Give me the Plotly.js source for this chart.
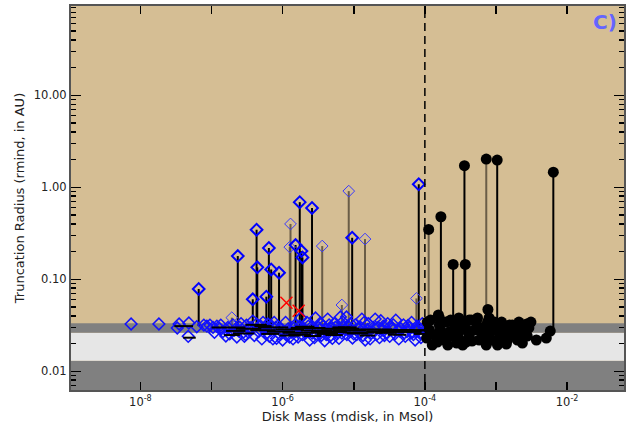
<!DOCTYPE html>
<html><head><meta charset="utf-8">
<script src="https://cdn.plot.ly/plotly-3.0.1.min.js"></script>
<style>html,body{margin:0;padding:0;background:#fff}#chart{width:626px;height:433px}</style>
</head><body><div id="chart"></div>
<script>
// ---- data ----
// high diamonds (bold) with stems: mass (Msol), rmin (AU), stem base (AU)
const dHiX    = [6.6e-8, 2.34e-7, 4.3e-7, 4.4e-7, 6.4e-7, 6.9e-7, 8.9e-7, 1.74e-6, 2.59e-6, 1.52e-6, 1.84e-6, 1.9e-6, 9.5e-6, 8.2e-5, 3.8e-7, 5.9e-7];
const dHiY    = [0.0786, 0.179, 0.346, 0.135, 0.219, 0.128, 0.118, 0.69, 0.596, 0.236, 0.203, 0.173, 0.283, 1.08, 0.0607, 0.0648];
const dHiBase = [0.031, 0.030, 0.029, 0.029, 0.029, 0.029, 0.029, 0.028, 0.028, 0.028, 0.028, 0.028, 0.028, 0.027, 0.029, 0.029];
// faint diamonds with grey stems
const dFaX    = [1.29e-6, 1.26e-6, 3.6e-6, 8.5e-6, 1.44e-5, 7.6e-5, 6.8e-6, 1.93e-7];
const dFaY    = [0.40, 0.224, 0.23, 0.91, 0.274, 0.062, 0.0526, 0.0383];
const dFaBase = [0.029, 0.029, 0.028, 0.028, 0.028, 0.027, 0.028, 0.030];
// clustered diamonds near the bottom
const dLoX = [7.4e-9, 1.82e-8, 3.5e-8, 4.8e-8, 3.3e-8, 4.7e-8, 6.2e-8, 7.8e-8, 8.6e-8, 9.5e-8, 1.05e-7, 1.19e-7, 1.3e-7, 1.45e-7, 1.59e-7, 1.7e-7, 2.1e-7, 2.27e-7, 2.5e-7, 2.8e-7, 3.1e-7, 3.4e-7, 3.8e-7, 4.3e-7, 4.6e-7, 5.1e-7, 5.6e-7, 6.2e-7, 6.8e-7, 7.3e-7, 8.0e-7, 9.0e-7, 1.0e-6, 1.1e-6, 1.2e-6, 1.35e-6, 1.5e-6, 1.65e-6, 1.8e-6, 2.0e-6, 2.2e-6, 2.4e-6, 2.6e-6, 2.9e-6, 3.2e-6, 3.5e-6, 3.9e-6, 4.3e-6, 4.8e-6, 5.3e-6, 5.8e-6, 6.5e-6, 7.2e-6, 7.9e-6, 8.7e-6, 9.6e-6, 1.05e-5, 1.15e-5, 1.3e-5, 1.45e-5, 1.6e-5, 1.78e-5, 2.0e-5, 2.2e-5, 2.4e-5, 2.7e-5, 3.0e-5, 3.4e-5, 3.9e-5, 4.3e-5, 5.0e-5, 5.6e-5, 6.5e-5, 7.3e-5, 8.4e-5, 9.2e-5, 9.5e-5, 2.6e-7, 3.0e-7, 5.3e-7, 7.6e-7, 8.5e-7, 1.25e-6, 1.45e-6, 1.9e-6, 2.3e-6, 2.8e-6, 3.4e-6, 4.0e-6, 4.6e-6, 5.5e-6, 6.2e-6, 7.0e-6, 8.0e-6, 9.0e-6, 1.1e-5, 1.25e-5, 1.4e-5, 1.7e-5, 1.9e-5, 2.3e-5, 2.6e-5, 3.2e-5, 3.6e-5, 4.6e-5, 5.3e-5, 6.0e-5, 6.9e-5, 7.8e-5, 8.8e-5,
  1.1e-7, 1.35e-7, 1.8e-7, 2.0e-7, 2.4e-7, 2.9e-7, 3.3e-7, 3.6e-7, 4.0e-7, 4.9e-7, 5.8e-7, 6.5e-7, 7.0e-7, 8.2e-7, 9.5e-7, 1.05e-6, 1.15e-6, 1.4e-6, 1.6e-6, 1.75e-6, 2.1e-6, 2.5e-6, 2.7e-6, 3.0e-6, 3.3e-6, 3.7e-6, 4.1e-6, 4.5e-6, 5.0e-6, 5.7e-6, 6.8e-6, 7.5e-6, 8.3e-6, 9.3e-6, 1.0e-5, 1.2e-5, 1.35e-5, 1.55e-5, 1.85e-5, 2.1e-5, 2.5e-5, 2.9e-5, 3.3e-5, 3.8e-5, 4.4e-5, 5.1e-5, 5.8e-5, 6.7e-5, 7.5e-5, 8.6e-5, 9.7e-5];
const dLoY = [0.0327, 0.0327, 0.0327, 0.0335, 0.0296, 0.0240, 0.0305, 0.0318, 0.0310, 0.0318, 0.0300, 0.0310, 0.0290, 0.0270, 0.0242, 0.0300, 0.0280, 0.0236, 0.0300, 0.0265, 0.0318, 0.0290, 0.0352, 0.0327, 0.0270, 0.0225, 0.0300, 0.0327, 0.0280, 0.0225, 0.0300, 0.0255, 0.0219, 0.0340, 0.0290, 0.0265, 0.0320, 0.0236, 0.0380, 0.0290, 0.0340, 0.0219, 0.0260, 0.0380, 0.0300, 0.0245, 0.0215, 0.0370, 0.0290, 0.0330, 0.0255, 0.0390, 0.0300, 0.0390, 0.0270, 0.0230, 0.0320, 0.0290, 0.0370, 0.0219, 0.0330, 0.0260, 0.0370, 0.0300, 0.0355, 0.0245, 0.0330, 0.0290, 0.0360, 0.0225, 0.0320, 0.0270, 0.0340, 0.0219, 0.0290, 0.0330, 0.0250, 0.0330, 0.0250, 0.0340, 0.0340, 0.0310, 0.0235, 0.0295, 0.0250, 0.0310, 0.0232, 0.0335, 0.0280, 0.0240, 0.0300, 0.0228, 0.0345, 0.0250, 0.0330, 0.0250, 0.0300, 0.0340, 0.0225, 0.0300, 0.0232, 0.0310, 0.0240, 0.0320, 0.0290, 0.0240, 0.0300, 0.0250, 0.0310, 0.0232,
  0.0265, 0.0318, 0.0255, 0.0320, 0.0275, 0.0240, 0.0265, 0.0300, 0.0245, 0.0310, 0.0255, 0.0240, 0.0310, 0.0228, 0.0290, 0.0270, 0.0245, 0.0225, 0.0280, 0.0310, 0.0260, 0.0300, 0.0275, 0.0255, 0.0285, 0.0310, 0.0250, 0.0320, 0.0228, 0.0275, 0.0260, 0.0285, 0.0310, 0.0280, 0.0255, 0.0265, 0.0245, 0.0285, 0.0270, 0.0250, 0.0280, 0.0265, 0.0310, 0.0255, 0.0275, 0.0260, 0.0315, 0.0265, 0.0280, 0.0260, 0.0300];
// horizontal black segments inside the cluster: start mass, end mass, rmin
const hX0 = [3.0e-8, 4.0e-8, 1.0e-7, 1.6e-7, 2.2e-7, 3.5e-7, 4.5e-7, 6.0e-7, 8.0e-7, 1.0e-6, 1.3e-6, 1.8e-6, 2.5e-6, 3.5e-6, 5.0e-6, 7.0e-6, 1.0e-5, 1.5e-5, 2.2e-5, 3.5e-5, 5.0e-5, 2.0e-7, 5.0e-7, 1.2e-6, 3.0e-6, 8.0e-6, 2.0e-5, 5.0e-6, 4.0e-7, 6.0e-5, 1.5e-7, 9.0e-7, 2.0e-6, 4.0e-6, 1.2e-5, 3.0e-5, 7.0e-5, 3.0e-7, 1.5e-6, 6.0e-6];
const hX1 = [5.5e-8, 6.0e-8, 3.0e-7, 3.0e-7, 5.0e-7, 8.0e-7, 1.2e-6, 1.5e-6, 2.0e-6, 3.0e-6, 4.0e-6, 5.0e-6, 8.0e-6, 1.2e-5, 1.5e-5, 2.5e-5, 3.5e-5, 5.0e-5, 7.0e-5, 9.0e-5, 1.0e-4, 4.0e-7, 9.0e-7, 2.5e-6, 6.0e-6, 1.6e-5, 4.0e-5, 9.0e-6, 7.0e-7, 1.1e-4, 2.5e-7, 1.8e-6, 3.5e-6, 7.0e-6, 2.0e-5, 5.5e-5, 1.0e-4, 6.0e-7, 2.8e-6, 1.1e-5];
const hY  = [0.0310, 0.0232, 0.0300, 0.0275, 0.0290, 0.0280, 0.0300, 0.0270, 0.0285, 0.0262, 0.0295, 0.0278, 0.0268, 0.0290, 0.0280, 0.0265, 0.0285, 0.0272, 0.0282, 0.0268, 0.0278, 0.0258, 0.0255, 0.0250, 0.0255, 0.0258, 0.0262, 0.0300, 0.0310, 0.0280, 0.0248, 0.0245, 0.0242, 0.0248, 0.0245, 0.0250, 0.0255, 0.0320, 0.0305, 0.0300];
// black circles, clustered
const cLoX = [1.16e-4, 1.37e-4, 1.6e-4, 1.89e-4, 2.2e-4, 2.6e-4, 3.0e-4, 3.6e-4, 4.2e-4, 5.0e-4, 5.8e-4, 6.9e-4, 8.0e-4, 9.5e-4, 1.1e-3, 1.32e-3, 1.55e-3, 1.82e-3, 2.1e-3, 2.5e-3, 2.9e-3, 3.7e-3, 5.1e-3, 5.8e-3, 1.5e-4, 2.0e-4, 2.8e-4, 3.8e-4, 5.3e-4, 7.3e-4, 1.0e-3, 1.4e-3, 2.0e-3, 2.7e-3, 1.2e-4, 1.65e-4, 2.3e-4, 3.2e-4, 4.5e-4, 6.3e-4, 8.7e-4, 1.2e-3, 1.65e-3, 2.3e-3, 5.5e-4,
  1.06e-4, 1.08e-4, 1.27e-4, 1.77e-4, 2.1e-4, 2.45e-4, 2.9e-4, 3.4e-4, 3.9e-4, 4.6e-4, 5.5e-4, 6.5e-4, 7.6e-4, 8.9e-4, 1.05e-3, 1.23e-3, 1.45e-3, 1.7e-3, 2.0e-3, 2.35e-3, 2.75e-3, 3.1e-3, 3.0e-4, 4.2e-4, 8.0e-4, 1.6e-4];
const cLoY = [0.0281, 0.0248, 0.0318, 0.0219, 0.0267, 0.0296, 0.0230, 0.0318, 0.0248, 0.0281, 0.0219, 0.0303, 0.0260, 0.0343, 0.0230, 0.0281, 0.0318, 0.0248, 0.0343, 0.0281, 0.0296, 0.0219, 0.0230, 0.0274, 0.0208, 0.0343, 0.0203, 0.0208, 0.0343, 0.0193, 0.0281, 0.0198, 0.0219, 0.0327, 0.0361, 0.0281, 0.0361, 0.0281, 0.0361, 0.0267, 0.0219, 0.0343, 0.0267, 0.0230, 0.0380,
  0.0230, 0.0343, 0.0193, 0.0248, 0.0193, 0.0242, 0.0343, 0.0193, 0.0281, 0.0213, 0.0296, 0.0230, 0.0343, 0.0281, 0.0193, 0.0248, 0.0219, 0.0318, 0.0281, 0.0203, 0.0242, 0.0343, 0.0380, 0.0361, 0.0380, 0.0380];
// black circles with stems
const cHiX    = [1.13e-4, 1.68e-4, 3.6e-4, 7.3e-4, 1.04e-3, 6.4e-3, 2.5e-4, 3.7e-4, 7.7e-4, 1.55e-4];
const cHiY    = [0.349, 0.479, 1.72, 2.03, 1.98, 1.46, 0.145, 0.145, 0.047, 0.041];
const cHiBase = [0.030, 0.030, 0.030, 0.030, 0.030, 0.030, 0.030, 0.030, 0.030, 0.030];
const cHiFaint = [true, false, false, true, false, false, false, false, false, false];
// red crosses
const xRedX = [1.13e-6, 1.68e-6];
const xRedY = [0.0557, 0.0456];
// shaded bands (AU) and the vertical dashed limit (Msol)
const bandEdges = [0.0130, 0.0263, 0.0333];
const massLimit = 1e-4;
// axis labels
const xTickVals = [1e-8, 1e-6, 1e-4, 1e-2];
const xTickText = ['10<sup>-8</sup>', '10<sup>-6</sup>', '10<sup>-4</sup>', '10<sup>-2</sup>'];
const xMinorVals = [1e-7, 1e-5, 1e-3];
const yTickVals = [0.01, 0.1, 1, 10];
const yTickText = ['0.01', '0.10', '1.00', '10.00'];

// ---- build ----
function stems(xs, ys, bs, pick) {
  const X = [], Y = [];
  xs.forEach((x, i) => { if (pick && !pick(i)) return; X.push(x, x, null); Y.push(bs[i], ys[i], null); });
  return {X, Y};
}
const sBold = stems(dHiX, dHiY, dHiBase);
const sFaint = stems(dFaX, dFaY, dFaBase);
const sCirc = stems(cHiX, cHiY, cHiBase, i => !cHiFaint[i]);
const sCircF = stems(cHiX, cHiY, cHiBase, i => cHiFaint[i]);
const hx = [], hy = [];
hX0.forEach((x, i) => { hx.push(x, hX1[i], null); hy.push(hY[i], hY[i], null); });

const minorY = [];
[0.001, 0.01, 0.1, 1, 10].forEach(d => { for (let k = 2; k <= 9; k++) minorY.push(d * k); });

const traces = [
  {x: sFaint.X, y: sFaint.Y, mode: 'lines', line: {color: 'rgba(70,60,45,0.75)', width: 2}, hoverinfo: 'skip'},
  {x: sCircF.X, y: sCircF.Y, mode: 'lines', line: {color: 'rgba(70,60,45,0.75)', width: 2}, hoverinfo: 'skip'},
  {x: sBold.X, y: sBold.Y, mode: 'lines', line: {color: '#000', width: 2}, hoverinfo: 'skip'},
  {x: sCirc.X, y: sCirc.Y, mode: 'lines', line: {color: '#000', width: 2}, hoverinfo: 'skip'},
  {x: dLoX, y: dLoY, mode: 'markers', marker: {symbol: 'diamond-open', size: 9, color: '#1010ff', line: {width: 1.5}}},
  {x: hx, y: hy, mode: 'lines', line: {color: '#000', width: 2}, hoverinfo: 'skip'},
  {x: dFaX, y: dFaY, mode: 'markers', marker: {symbol: 'diamond-open', size: 9, color: '#3838ff', line: {width: 1}}},
  {x: dHiX, y: dHiY, mode: 'markers', marker: {symbol: 'diamond-open', size: 9, color: '#0000ff', line: {width: 2}}},
  {x: cLoX, y: cLoY, mode: 'markers', marker: {symbol: 'circle', size: 11, color: '#000'}},
  {x: cHiX, y: cHiY, mode: 'markers', marker: {symbol: 'circle', size: 11, color: '#000'}},
  {x: xRedX, y: xRedY, mode: 'markers', marker: {symbol: 'x-thin-open', size: 12, color: '#ff0000', line: {width: 1.5, color: '#ff0000'}}},
  {x: [massLimit, massLimit], y: [0.004, 200], mode: 'lines', line: {color: '#000', width: 1.5, dash: '8px,5px'}, hoverinfo: 'skip'}
];

const axFont = {family: 'DejaVu Sans, sans-serif', size: 11.5, color: '#222'};
const titleFont = {family: 'DejaVu Sans, sans-serif', size: 13, color: '#222'};
const layout = {
  width: 626, height: 433,
  margin: {l: 71, r: 2, t: 6, b: 43},
  paper_bgcolor: '#ffffff',
  plot_bgcolor: 'rgb(213,190,148)',
  showlegend: false,
  font: axFont,
  xaxis: {
    type: 'log', range: [-8.976, -1.2],
    tickmode: 'array', tickvals: xTickVals, ticktext: xTickText,
    ticks: 'inside', ticklen: 8, tickwidth: 1.5, tickcolor: '#000',
    minor: {tickvals: xMinorVals, ticks: 'inside', ticklen: 8, tickwidth: 1.5, tickcolor: '#000', showgrid: false},
    showgrid: false, zeroline: false,
    showline: true, linecolor: '#555', linewidth: 2, mirror: 'ticks',
    tickfont: axFont,
    title: {text: 'Disk Mass (mdisk, in Msol)', font: titleFont, standoff: 4}
  },
  yaxis: {
    type: 'log', range: [-2.203, 1.971],
    tickmode: 'array', tickvals: yTickVals, ticktext: yTickText,
    ticks: 'inside', ticklen: 10, tickwidth: 1.5, tickcolor: '#000',
    minor: {tickvals: minorY, ticks: 'inside', ticklen: 5, tickwidth: 1.5, tickcolor: '#000', showgrid: false},
    showgrid: false, zeroline: false,
    showline: true, linecolor: '#555', linewidth: 2, mirror: 'ticks',
    tickfont: axFont,
    title: {text: 'Truncation Radius (rmind, in AU)', font: titleFont, standoff: 6}
  },
  shapes: [
    {type: 'rect', xref: 'paper', yref: 'y', x0: 0, x1: 1, y0: 0.001, y1: bandEdges[0], fillcolor: '#808080', line: {width: 0}, layer: 'below'},
    {type: 'rect', xref: 'paper', yref: 'y', x0: 0, x1: 1, y0: bandEdges[0], y1: bandEdges[1], fillcolor: '#e6e6e6', line: {width: 0}, layer: 'below'},
    {type: 'rect', xref: 'paper', yref: 'y', x0: 0, x1: 1, y0: bandEdges[1], y1: bandEdges[2], fillcolor: '#808080', line: {width: 0}, layer: 'below'}
  ],
  annotations: [
    {text: '<b>C)</b>', xref: 'paper', yref: 'paper', x: 0.966, y: 0.958, xanchor: 'center', yanchor: 'middle', showarrow: false,
     font: {family: 'DejaVu Sans, sans-serif', size: 20, color: '#6464ff'}}
  ]
};
Plotly.newPlot('chart', traces, layout, {displayModeBar: false, staticPlot: true});
</script>
</body></html>
